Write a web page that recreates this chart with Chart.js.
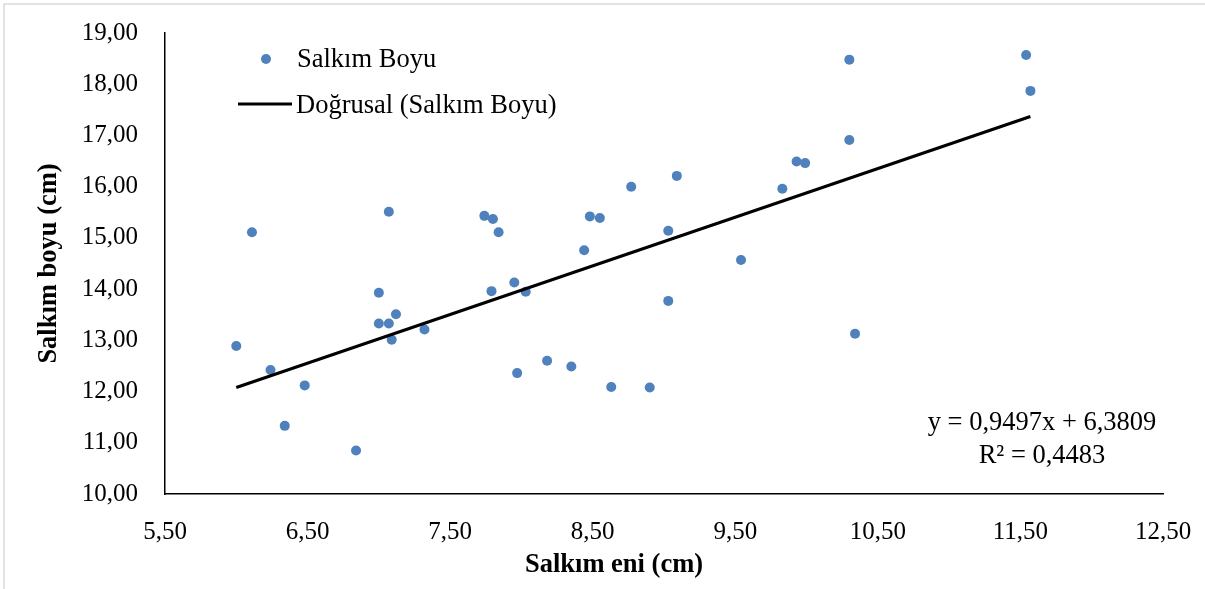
<!DOCTYPE html>
<html lang="tr">
<head>
<meta charset="UTF-8">
<title>Salkım eni - Salkım boyu</title>
<script src="https://cdn.jsdelivr.net/npm/chart.js"></script>
<style>
    body {
        margin: 0;
        background: #ffffff;
    }
    #kutu {
        position: relative;
        width: 1205px;
        height: 589px;
    }
</style>
</head>
<body>
<div id="kutu"><canvas id="grafik" width="1205" height="589"></canvas></div>
<script>
// veriler (resimden okunan yaklaşık değerler)
const salkimEni = [6.00, 6.11, 6.24, 6.34, 6.48, 6.84, 7.00, 7.00, 7.07, 7.07,
                   7.09, 7.12, 7.32, 7.74, 7.79, 7.80, 7.84, 7.95, 7.97, 8.03,
                   8.18, 8.35, 8.44, 8.48, 8.55, 8.63, 8.77, 8.90, 9.03, 9.03,
                   9.09, 9.54, 9.83, 9.93, 9.99, 10.30, 10.30, 10.34, 11.54, 11.57];
const salkimBoyu = [12.89, 15.11, 12.42, 11.33, 12.12, 10.85, 13.93, 13.33, 15.51, 13.33,
                    13.01, 13.51, 13.21, 15.43, 13.96, 15.37, 15.11, 14.13, 12.36, 13.95,
                    12.60, 12.49, 14.76, 15.42, 15.39, 12.09, 16.00, 12.08, 15.14, 13.77,
                    16.21, 14.57, 15.96, 16.49, 16.46, 18.48, 16.91, 13.13, 18.57, 17.87];
const trendEni = [6.00, 11.57];
const trendBoyu = [12.08, 17.37];
const xTicks = [5.5, 6.5, 7.5, 8.5, 9.5, 10.5, 11.5, 12.5];
const yTicks = [10, 11, 12, 13, 14, 15, 16, 17, 18, 19];
const denklem = ['y = 0,9497x + 6,3809', 'R² = 0,4483'];

const yazi = "'Liberation Serif', 'Times New Roman', serif";
const mavi = '#4F81BD';

function virgul(v) {
    return Number(v).toFixed(2).replace('.', ',');
}

const noktalar = salkimEni.map((x, i) => ({ x: x, y: salkimBoyu[i] }));
const trend = trendEni.map((x, i) => ({ x: x, y: trendBoyu[i] }));

const ekYazilar = {
    id: 'ekYazilar',
    afterDraw(chart) {
        const ctx = chart.ctx;
        const ds = chart.data.datasets;
        ctx.save();

        // dış çerçeve (üst ve sol)
        ctx.strokeStyle = '#d9d9d9';
        ctx.lineWidth = 1.5;
        ctx.beginPath();
        ctx.moveTo(4, 589);
        ctx.lineTo(4, 4);
        ctx.lineTo(1205, 4);
        ctx.stroke();

        // lejant
        ctx.fillStyle = ds[0].backgroundColor;
        ctx.beginPath();
        ctx.arc(266, 59, 5, 0, Math.PI * 2);
        ctx.fill();
        ctx.strokeStyle = ds[1].borderColor;
        ctx.lineWidth = 3;
        ctx.beginPath();
        ctx.moveTo(238, 104);
        ctx.lineTo(292, 104);
        ctx.stroke();

        ctx.fillStyle = '#000';
        ctx.font = '26.5px ' + yazi;
        ctx.textAlign = 'left';
        ctx.textBaseline = 'alphabetic';
        ctx.fillText(ds[0].label, 297, 67);
        ctx.fillText(ds[1].label, 296, 113);

        // denklem
        ctx.textAlign = 'center';
        ctx.fillText(denklem[0], 1042, 430);
        ctx.fillText(denklem[1], 1042, 463);

        // x ekseni başlığı
        ctx.font = 'bold 26.5px ' + yazi;
        ctx.textBaseline = 'middle';
        ctx.fillText('Salkım eni (cm)', 614, 565);

        ctx.restore();
    }
};

new Chart(document.getElementById('grafik'), {
    type: 'scatter',
    data: {
        datasets: [{
            label: 'Salkım Boyu',
            data: noktalar,
            backgroundColor: mavi,
            borderColor: mavi,
            borderWidth: 0,
            pointRadius: 5,
            order: 2
        }, {
            label: 'Doğrusal (Salkım Boyu)',
            type: 'line',
            data: trend,
            borderColor: '#000000',
            borderWidth: 3,
            pointRadius: 0,
            fill: false,
            order: 1
        }]
    },
    options: {
        responsive: false,
        animation: false,
        devicePixelRatio: 1,
        layout: {
            padding: { left: 0, right: 42, top: 33, bottom: 0 }
        },
        plugins: {
            legend: { display: false },
            tooltip: { enabled: false }
        },
        scales: {
            x: {
                type: 'linear',
                min: 5.5,
                max: 12.5,
                afterBuildTicks: s => { s.ticks = xTicks.map(v => ({ value: v })); },
                afterFit: s => {
                    s.height = 95;
                    s.paddingLeft = 0;
                    s.paddingRight = 0;
                },
                grid: { display: false, drawTicks: false, tickLength: 0 },
                border: { display: true, color: '#000000', width: 1.5 },
                ticks: {
                    padding: 23,
                    color: '#000000',
                    font: { family: yazi, size: 25 },
                    maxRotation: 0,
                    callback: v => virgul(v)
                },
                title: { display: false }
            },
            y: {
                type: 'linear',
                min: 10,
                max: 19,
                afterBuildTicks: s => { s.ticks = yTicks.map(v => ({ value: v })); },
                afterFit: s => {
                    s.width = 165;
                    s.paddingTop = 0;
                    s.paddingBottom = 0;
                },
                grid: { display: false, drawTicks: false, tickLength: 0 },
                border: { display: true, color: '#000000', width: 1.5 },
                ticks: {
                    padding: 27,
                    color: '#000000',
                    font: { family: yazi, size: 25 },
                    callback: v => virgul(v)
                },
                title: {
                    display: true,
                    text: 'Salkım boyu (cm)',
                    color: '#000000',
                    font: { family: yazi, size: 26.5, weight: 'bold' },
                    padding: { top: 33, bottom: 0 }
                }
            }
        }
    },
    plugins: [ekYazilar]
});
</script>
</body>
</html>
